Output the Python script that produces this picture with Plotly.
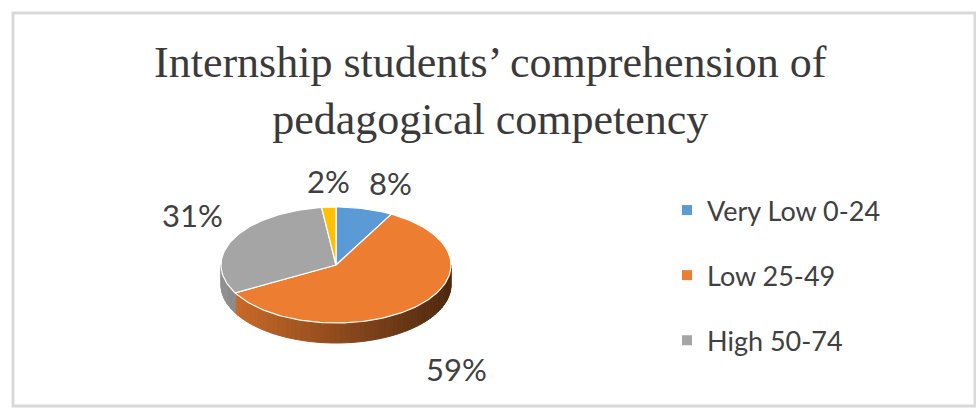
import numpy as np
import plotly.graph_objects as go

# ---- data ----
categories = ["Very Low 0-24", "Low 25-49", "High 50-74", "Very High 75-100"]
values = [8, 59, 31, 2]
pct_labels = ["8%", "59%", "31%", "2%"]
colors = ["#5B9BD5", "#ED7D31", "#A5A5A5", "#FFC000"]
in_legend = [True, True, True, False]
title_text = "Internship students’ comprehension of<br>pedagogical competency"

# ---- geometry / style ----
W, H = 976, 408
CX, CY, RX, RY, DEPTH = 336, 265, 115, 58, 20
TXT = "#404040"


def arc(t0, t1, n, dy=0.0):
    t = np.radians(np.linspace(t0, t1, n))
    return CX + RX * np.sin(t), CY - RY * np.cos(t) + dy


def shade(hexcol, f):
    r, g, b = (int(hexcol[i:i + 2], 16) for i in (1, 3, 5))
    return "rgb(%d,%d,%d)" % (r * f, g * f, b * f)


fig = go.Figure()
total = float(sum(values))
ends = np.cumsum(values) / total * 360.0
starts = np.concatenate([[0.0], ends[:-1]])

# side walls (front half: 90..270 deg measured clockwise from 12 o'clock)
for s, e, col in zip(starts, ends, colors):
    a, b = max(s, 90.0), min(e, 270.0)
    if b <= a:
        continue
    nstrips = max(2, int((b - a) / 2.5))
    edges = np.linspace(a, b, nstrips + 1)
    for k in range(nstrips):
        x1, y1 = arc(edges[k], edges[k + 1], 4)
        x2, y2 = arc(edges[k + 1], edges[k], 4, DEPTH)
        xm = (x1.mean() - (CX - RX)) / (2 * RX)
        f = 0.88 - 0.55 * xm
        c = shade(col, f)
        fig.add_trace(go.Scatter(
            x=np.concatenate([x1, x2, x1[:1]]), y=np.concatenate([y1, y2, y1[:1]]),
            mode="lines", fill="toself", fillcolor=c,
            line=dict(color=c, width=1), showlegend=False, hoverinfo="skip"))

# top faces
for cat, v, s, e, col in zip(categories, values, starts, ends, colors):
    n = max(3, int((e - s) / 1.5))
    xs, ys = arc(s, e, n)
    fig.add_trace(go.Scatter(
        x=np.concatenate([[CX], xs, [CX]]), y=np.concatenate([[CY], ys, [CY]]),
        mode="lines", fill="toself", fillcolor=col,
        line=dict(color="white", width=1.2), showlegend=False,
        name=cat, hovertemplate=cat + ": %d%%<extra></extra>" % v))

# legend entries
for i, (cat, col, show) in enumerate(zip(categories, colors, in_legend)):
    if not show:
        continue
    fig.add_trace(go.Scatter(
        x=[None], y=[None], mode="markers", name=cat, legendgroup="g%d" % i,
        marker=dict(symbol="square", size=10, color=col)))

# data labels (placed outside the slice, at its mid angle)
annotations = []
for lab, s, e in zip(pct_labels, starts, ends):
    m = np.radians((s + e) / 2)
    sn, cs = np.sin(m), np.cos(m)
    lx = CX + (RX + 10) * sn
    ly = CY - (RY + 5) * cs
    if cs < 0:
        ly += 38
    xa = "left" if sn > 0.15 else ("right" if sn < -0.15 else "center")
    ya = "bottom" if cs > 0 else "top"
    annotations.append(dict(x=lx, y=ly, xref="x", yref="y", text=lab, showarrow=False,
                            xanchor=xa, yanchor=ya,
                            font=dict(family="Lato", size=31, color=TXT)))

annotations.append(dict(x=490 / W, y=1 - 36 / H, xref="paper", yref="paper", text=title_text,
                        showarrow=False, xanchor="center", yanchor="top", align="center",
                        font=dict(family="Liberation Serif", size=44, color="#3a3a3a")))

fig.update_layout(
    width=W, height=H, margin=dict(l=0, r=0, t=0, b=0),
    paper_bgcolor="white", plot_bgcolor="white",
    xaxis=dict(range=[0, W], visible=False, fixedrange=True, domain=[0, 1]),
    yaxis=dict(range=[H, 0], visible=False, fixedrange=True, domain=[0, 1]),
    annotations=annotations,
    showlegend=True,
    legend=dict(x=667 / W, y=1 - 186 / H, xanchor="left", yanchor="top",
                font=dict(family="Lato", size=27, color=TXT),
                tracegroupgap=27, bgcolor="rgba(0,0,0,0)"),
    shapes=[dict(type="rect", xref="x", yref="y", x0=13, y0=13, x1=975, y1=406,
                 line=dict(color="#d9d9d9", width=3), layer="below")],
)

fig.write_html("out.html")
